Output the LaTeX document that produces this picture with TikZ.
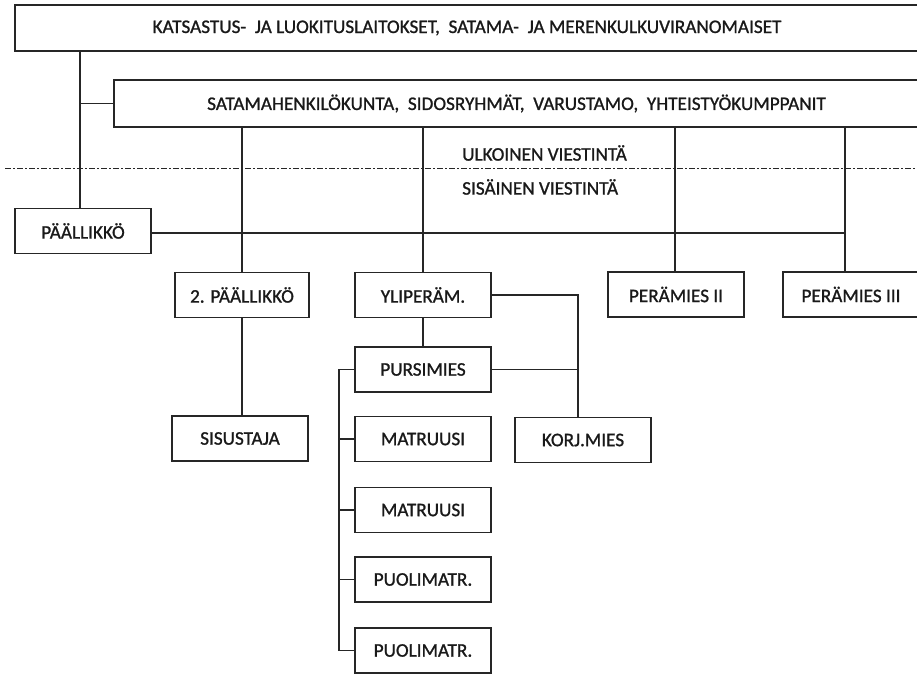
\documentclass[tikz,border=0pt]{standalone}
\usepackage{fontspec}
\setmainfont{Carlito}
\newfontface\diagfont{Carlito}[FakeBold=1.1]
\begin{document}
\begin{tikzpicture}[x=1pt,y=-1pt,
  txt/.style={font=\diagfont\fontsize{19.2}{21}\selectfont,text=black!90},
  box/.style={txt,draw=black!85,line width=1.3pt,rectangle,inner sep=0pt,
    minimum width=136pt,minimum height=45pt},
  wide/.style={txt,draw=black!85,line width=1.3pt,rectangle,inner sep=0pt,
    minimum height=46pt},
  link/.style={draw=black!85,line width=1.3pt},
  border/.style={draw=black!85,line width=1pt,dash pattern=on 5.5pt off 2.5pt on 1.5pt off 2.5pt},
  lbl/.style={txt,anchor=west,inner sep=0pt}]
\useasboundingbox (0,0) rectangle (917,675);
\begin{scope}
\clip (0,0) rectangle (917,675);

% outer stakeholders
\node[wide,minimum width=904pt] (top) at (467,28)
  {KATSASTUS-~ JA LUOKITUSLAITOKSET,~ SATAMA-~ JA MERENKULKUVIRANOMAISET};
\node[wide,minimum width=805pt,minimum height=47pt] (sec) at (516.5,103.5)
  {SATAMAHENKILÖKUNTA,~ SIDOSRYHMÄT,~ VARUSTAMO,~ YHTEISTYÖKUMPPANIT};

% external / internal divider
\coordinate (dl) at (5,168);
\coordinate (dr) at (917,168);
\draw[border] (dl) -- (dr);
\node[lbl] (ext) at (462,153) {ULKOINEN VIESTINTÄ};
\node[lbl] (int) at (462,187) {SISÄINEN VIESTINTÄ};

% crew
\node[box] (chief) at (83,231) {PÄÄLLIKKÖ};
\node[box,minimum width=134pt] (second) at (242,295) {2. PÄÄLLIKKÖ};
\node[box] (chmate) at (423,295) {YLIPERÄM.};
\node[box] (mate2) at (676,294.5) {PERÄMIES II};
\node[box] (mate3) at (851,294.5) {PERÄMIES III};
\node[box] (steward) at (240,438.5) {SISUSTAJA};
\node[box] (bosun) at (423,369.5) {PURSIMIES};
\node[box] (fitter) at (583,440) {KORJ.MIES};
\node[box] (ab1) at (423,439) {MATRUUSI};
\node[box] (ab2) at (423,510) {MATRUUSI};
\node[box] (os1) at (423,579.5) {PUOLIMATR.};
\node[box] (os2) at (423,650.5) {PUOLIMATR.};

% trunk lines
\coordinate (xa) at (80,0);
\coordinate (xb) at (242,0);
\coordinate (xc) at (423,0);
\coordinate (xd) at (675,0);
\coordinate (xe) at (845,0);
\coordinate (xf) at (578,0);
\coordinate (xg) at (339,0);

\draw[link] (xa |- top.south) -- (xa |- chief.north);
\draw[link] (xa |- sec.west) -- (sec.west);
\draw[link] (chief.east) ++(0,2) coordinate (ce) -- (ce -| xe);

\draw[link] (xb |- sec.south) -- (xb |- second.north);
\draw[link] (xb |- second.south) -- (xb |- steward.north);
\draw[link] (xc |- sec.south) -- (xc |- chmate.north);
\draw[link] (xc |- chmate.south) -- (xc |- bosun.north);
\draw[link] (xd |- sec.south) -- (xd |- mate2.north);
\draw[link] (xe |- sec.south) -- (xe |- mate3.north);

% fitter branch
\draw[link] (chmate.east) -- (xf |- chmate.east) -- (xf |- fitter.north);
\draw[link] (bosun.east) -- (xf |- bosun.east);

% deck crew bracket
\draw[link] (bosun.west) -- (xg |- bosun.west) -- (xg |- os2.west) -- (os2.west);
\draw[link] (xg |- ab1.west) -- (ab1.west);
\draw[link] (xg |- ab2.west) -- (ab2.west);
\draw[link] (xg |- os1.west) -- (os1.west);
\end{scope}
\end{tikzpicture}
\end{document}
